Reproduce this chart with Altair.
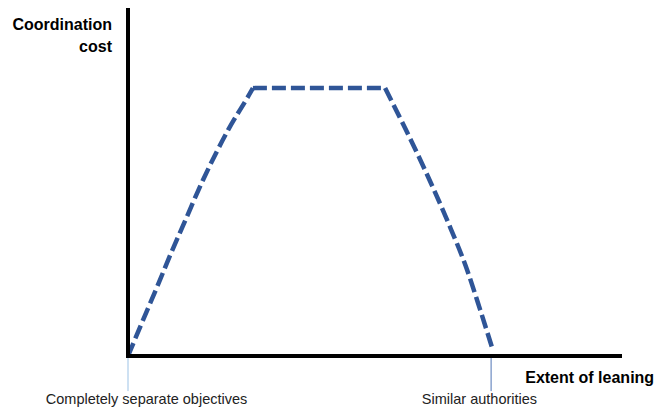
import altair as alt
import pandas as pd

# Conceptual curve: coordination cost vs extent of leaning
rise_x = [0, 4.13, 7.99, 11.85, 14.88, 20.66, 27.55, 33.61, 34.4]
rise_y = [0, 13.4, 25.7, 38.4, 47.8, 65.7, 84.3, 98.1, 100]
flat_x = [34.4, 70.8]
flat_y = [100, 100]
fall_x = [70.8, 76.3, 81.8, 87.9, 93.4, 97.0, 100.3]
fall_y = [100, 85.1, 69.4, 50.7, 32.1, 17.2, 3.0]

x_max = 135.5
y_max = 129.9

tick_x = [0, 100]
tick_colors = ["#9DC3E6", "#4F75B5"]
tick_labels = ["Completely separate objectives", "Similar authorities"]
tick_label_x = [5.1, 96.8]

y_title = ["Coordination", "cost"]
y_title_y = [123.5, 115.5]
x_title = "Extent of leaning"

xs = alt.Scale(domain=[0, x_max], nice=False, zero=False)
ys = alt.Scale(domain=[0, y_max], nice=False, zero=False)

rows = []
for seg, (sx, sy) in enumerate([(rise_x, rise_y), (flat_x, flat_y), (fall_x, fall_y)]):
    for i, (a, b) in enumerate(zip(sx, sy)):
        rows.append({"x": a, "y": b, "seg": seg, "o": i})
curve_df = pd.DataFrame(rows)
curve = alt.Chart(curve_df).mark_line(
    color="#2F5597", strokeWidth=4.5, strokeDash=[14, 5], strokeCap="butt", interpolate="monotone"
).encode(
    x=alt.X("x:Q", scale=xs, axis=None),
    y=alt.Y("y:Q", scale=ys, axis=None),
    detail="seg:N",
    order="o:Q",
)

axes_df = pd.DataFrame({"x": [0, 0], "x2": [0, x_max], "y": [0, 0], "y2": [y_max, 0]})
axes = alt.Chart(axes_df).mark_rule(color="black", strokeWidth=4, strokeCap="square").encode(
    x=alt.X("x:Q", scale=xs, axis=None), x2="x2:Q",
    y=alt.Y("y:Q", scale=ys, axis=None), y2="y2:Q",
)

ticks_df = pd.DataFrame({"x": tick_x, "y": [0, 0], "y2": [-13.1, -13.1], "c": tick_colors})
ticks = alt.Chart(ticks_df).mark_rule(strokeWidth=1).encode(
    x=alt.X("x:Q", scale=xs, axis=None),
    y=alt.Y("y:Q", scale=ys, axis=None), y2="y2:Q",
    color=alt.Color("c:N", scale=None),
)

labels_df = pd.DataFrame({"x": tick_label_x, "y": [-17.9, -17.9], "t": tick_labels})
labels = alt.Chart(labels_df).mark_text(
    font="Liberation Sans", fontSize=14.5, color="#222222", align="center", baseline="alphabetic"
).encode(
    x=alt.X("x:Q", scale=xs, axis=None),
    y=alt.Y("y:Q", scale=ys, axis=None),
    text="t:N",
)

yt_df = pd.DataFrame({"x": [-4.4, -4.4], "y": y_title_y, "t": y_title})
ytitle = alt.Chart(yt_df).mark_text(
    font="Liberation Sans", fontSize=16, fontWeight="bold", color="black", align="right", baseline="middle"
).encode(
    x=alt.X("x:Q", scale=xs, axis=None),
    y=alt.Y("y:Q", scale=ys, axis=None),
    text="t:N",
)

xt_df = pd.DataFrame({"x": [144.9], "y": [-8.2], "t": [x_title]})
xtitle = alt.Chart(xt_df).mark_text(
    font="Liberation Sans", fontSize=16, fontWeight="bold", color="black", align="right", baseline="middle"
).encode(
    x=alt.X("x:Q", scale=xs, axis=None),
    y=alt.Y("y:Q", scale=ys, axis=None),
    text="t:N",
)

chart = alt.layer(ticks, curve, axes, labels, ytitle, xtitle).properties(
    width=492,
    height=348,
    autosize=alt.AutoSizeParams(type="none"),
    padding={"left": 120, "top": 0, "right": 35, "bottom": 52},
    background="white",
).configure_view(stroke=None)

chart.save("out.html", embed_options={"renderer": "svg", "actions": False})
